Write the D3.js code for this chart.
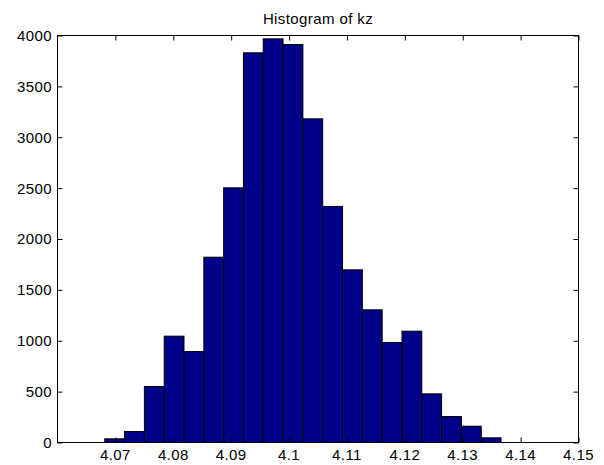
<!DOCTYPE html>
<html>
<head>
<meta charset="utf-8">
<script src="https://cdn.jsdelivr.net/npm/d3@7"></script>
<style>
  html, body { margin: 0; padding: 0; background: #fff; }
  svg { display: block; font-family: "Liberation Sans", Arial, sans-serif; }
</style>
</head>
<body>
<svg id="chart" width="604" height="465"></svg>
<script>
// Histogram bin edges
const binEdges = [4.06816, 4.07158, 4.07501, 4.07843, 4.08185, 4.08528, 4.08870,
  4.09212, 4.09554, 4.09897, 4.10239, 4.10581, 4.10924, 4.11266, 4.11608,
  4.11951, 4.12293, 4.12635, 4.12977, 4.13320, 4.13662];
// Counts per bin
const counts = [36, 108, 550, 1045, 894, 1821, 2503, 3830, 3967, 3911, 3181,
  2320, 1697, 1304, 983, 1094, 478, 255, 160, 46];
const xTicks = [4.07, 4.08, 4.09, 4.1, 4.11, 4.12, 4.13, 4.14, 4.15];
const yTicks = [0, 500, 1000, 1500, 2000, 2500, 3000, 3500, 4000];
const xDomain = [4.06, 4.15];
const yDomain = [0, 4000];
const title = "Histogram of kz";

const bins = counts.map((c, i) => ({ x0: binEdges[i], x1: binEdges[i + 1], count: c }));

const L = 57.5, R = 578.5, T = 35.5, B = 442.5;
const svg = d3.select("#chart");
const x = d3.scaleLinear().domain(xDomain).range([L, R]);
const y = d3.scaleLinear().domain(yDomain).range([B, T]);
const tickLen = 5;
const fs = "15px";
const ls = "0.4px";

// bars
svg.append("g").selectAll("rect").data(bins).join("rect")
  .attr("x", d => x(d.x0))
  .attr("y", d => y(d.count))
  .attr("width", d => x(d.x1) - x(d.x0))
  .attr("height", d => y(0) - y(d.count))
  .attr("fill", "#000088")
  .attr("stroke", "#000")
  .attr("stroke-width", 1);

// axes (ticks inward)
const fmtX = d => d3.format("")(+d.toFixed(2));
const gB = svg.append("g").attr("transform", `translate(0,${B})`)
  .call(d3.axisTop(x).tickValues(xTicks).tickSize(tickLen).tickFormat(""));
const gT = svg.append("g").attr("transform", `translate(0,${T})`)
  .call(d3.axisBottom(x).tickValues(xTicks).tickSize(tickLen).tickFormat(""));
const gL = svg.append("g").attr("transform", `translate(${L},0)`)
  .call(d3.axisRight(y).tickValues(yTicks).tickSize(tickLen).tickFormat(""));
const gR = svg.append("g").attr("transform", `translate(${R},0)`)
  .call(d3.axisLeft(y).tickValues(yTicks).tickSize(tickLen).tickFormat(""));
[gB, gT, gL, gR].forEach(g => {
  g.select(".domain").remove();
  g.selectAll("line").attr("stroke", "#000");
});

// box
svg.append("rect").attr("x", L).attr("y", T).attr("width", R - L).attr("height", B - T)
  .attr("fill", "none").attr("stroke", "#000").attr("stroke-width", 1);

// tick labels
svg.append("g").selectAll("text").data(xTicks).join("text")
  .attr("x", d => x(d)).attr("y", 460)
  .attr("text-anchor", "middle").attr("font-size", fs).attr("letter-spacing", ls).attr("fill", "#000")
  .text(fmtX);
svg.append("g").selectAll("text").data(yTicks).join("text")
  .attr("x", 52).attr("y", d => y(d)).attr("dy", "0.36em")
  .attr("text-anchor", "end").attr("font-size", fs).attr("letter-spacing", ls).attr("fill", "#000")
  .text(d => d);

// title
svg.append("text").attr("x", (L + R) / 2).attr("y", 24)
  .attr("text-anchor", "middle").attr("font-size", fs).attr("letter-spacing", ls).attr("fill", "#000")
  .text(title);
</script>
</body>
</html>
